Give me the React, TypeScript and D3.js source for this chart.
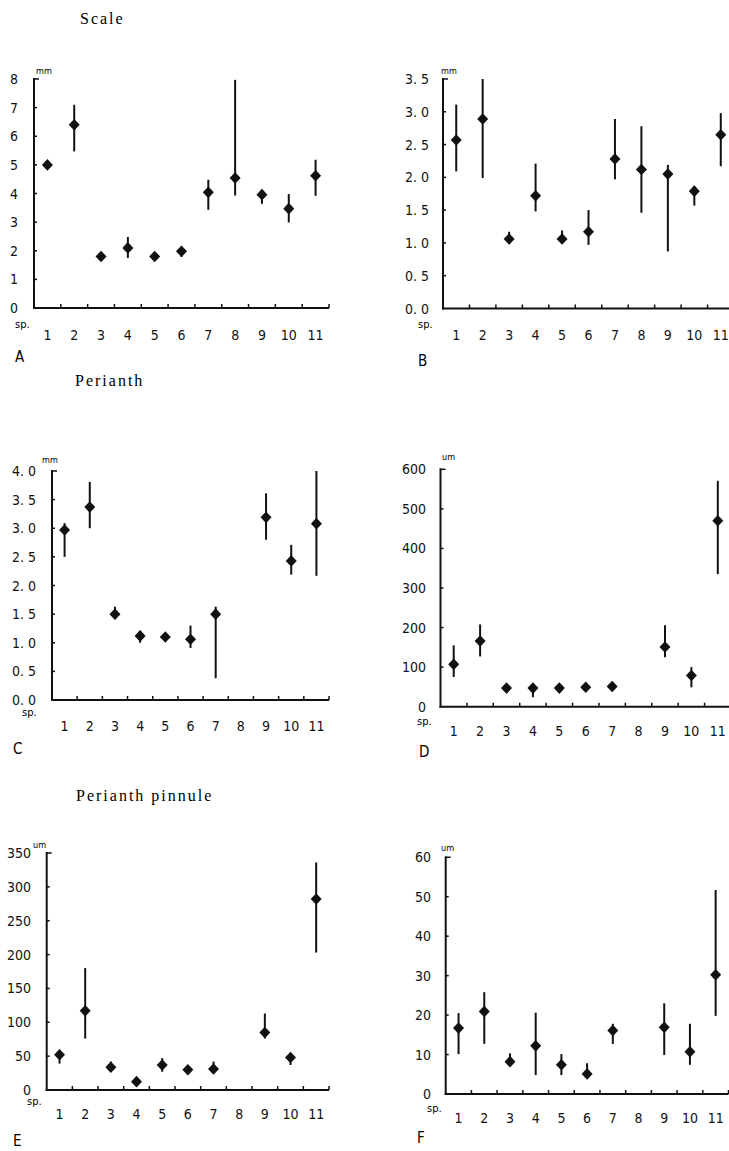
import React, { useEffect, useRef } from "react";
import * as d3 from "d3";

// species numbers on the x axis
const species = ["1", "2", "3", "4", "5", "6", "7", "8", "9", "10", "11"];

// A: scale length (mm)
const scaleLenMean = [5.0, 6.4, 1.8, 2.1, 1.8, 1.98, 4.04, 4.54, 3.96, 3.47, 4.62];
const scaleLenLow = [5.0, 5.47, 1.8, 1.75, 1.8, 1.78, 3.43, 3.93, 3.64, 2.99, 3.92];
const scaleLenHigh = [5.0, 7.1, 1.8, 2.48, 1.8, 2.15, 4.48, 7.97, 4.13, 3.98, 5.18];

// B: scale width (mm)
const scaleWidMean = [2.57, 2.89, 1.06, 1.72, 1.06, 1.17, 2.28, 2.12, 2.05, 1.79, 2.65];
const scaleWidLow = [2.09, 1.99, 0.99, 1.48, 0.99, 0.97, 1.97, 1.46, 0.87, 1.57, 2.17];
const scaleWidHigh = [3.11, 3.5, 1.17, 2.21, 1.19, 1.5, 2.89, 2.78, 2.19, 1.86, 2.98];

// C: perianth length (mm)
const perLenMean = [2.97, 3.37, 1.5, 1.12, 1.1, 1.06, 1.5, null, 3.19, 2.43, 3.08];
const perLenLow = [2.5, 3.0, 1.5, 1.0, 1.1, 0.91, 0.38, null, 2.8, 2.19, 2.17];
const perLenHigh = [3.09, 3.81, 1.63, 1.2, 1.1, 1.3, 1.63, null, 3.61, 2.71, 4.0];

// D: perianth (um)
const perWidMean = [107, 166, 47, 47, 47, 49, 51, null, 151, 79, 470];
const perWidLow = [75, 127, 47, 24, 47, 49, 51, null, 125, 49, 335];
const perWidHigh = [155, 208, 47, 55, 47, 49, 51, null, 206, 100, 571];

// E: perianth pinnule (um)
const pinLenMean = [52, 117, 33.5, 12.3, 37, 30, 31, null, 85, 48, 282];
const pinLenLow = [39, 76, 30, 7, 27, 30, 25, null, 76, 37, 203];
const pinLenHigh = [57, 180, 42, 17, 47, 30, 42, null, 113, 54, 336];

// F: perianth pinnule (um)
const pinWidMean = [16.7, 20.9, 8.2, 12.2, 7.4, 5.1, 16.1, null, 16.9, 10.7, 30.2];
const pinWidLow = [10.1, 12.7, 7.5, 4.8, 4.8, 4.0, 12.7, null, 9.9, 7.4, 19.8];
const pinWidHigh = [20.5, 25.8, 10.3, 20.6, 10.1, 7.8, 17.8, null, 23.0, 17.8, 51.7];

// y tick values and their printed labels
const ticksA = [0, 1, 2, 3, 4, 5, 6, 7, 8];
const labelsA = ["0", "1", "2", "3", "4", "5", "6", "7", "8"];
const ticksB = [0, 0.5, 1, 1.5, 2, 2.5, 3, 3.5];
const labelsB = ["0. 0", "0. 5", "1. 0", "1. 5", "2. 0", "2. 5", "3. 0", "3. 5"];
const ticksC = [0, 0.5, 1, 1.5, 2, 2.5, 3, 3.5, 4];
const labelsC = ["0. 0", "0. 5", "1. 0", "1. 5", "2. 0", "2. 5", "3. 0", "3. 5", "4. 0"];
const ticksD = [0, 100, 200, 300, 400, 500, 600];
const labelsD = ["0", "100", "200", "300", "400", "500", "600"];
const ticksE = [0, 50, 100, 150, 200, 250, 300, 350];
const labelsE = ["0", "50", "100", "150", "200", "250", "300", "350"];
const ticksF = [0, 10, 20, 30, 40, 50, 60];
const labelsF = ["0", "10", "20", "30", "40", "50", "60"];

const titles = [
  { text: "Scale", x: 80, y: 24 },
  { text: "Perianth", x: 75, y: 386 },
  { text: "Perianth pinnule", x: 76, y: 801 },
];

const panels = [
  { letter: "A", unit: "mm", mean: scaleLenMean, low: scaleLenLow, high: scaleLenHigh, ticks: ticksA, labels: labelsA,
    x0: 34, x1: 329, yTop: 79, yBot: 308, labelX: 18, unitX: 36, unitY: 74, spY: 328, numY: 340, letterY: 362, spX: 15, letterX: 15 },
  { letter: "B", unit: "mm", mean: scaleWidMean, low: scaleWidLow, high: scaleWidHigh, ticks: ticksB, labels: labelsB,
    x0: 443, x1: 734, yTop: 79, yBot: 308.5, labelX: 429, unitX: 441, unitY: 74, spY: 328, numY: 340, letterY: 366, spX: 418, letterX: 418 },
  { letter: "C", unit: "mm", mean: perLenMean, low: perLenLow, high: perLenHigh, ticks: ticksC, labels: labelsC,
    x0: 52, x1: 329, yTop: 471, yBot: 700, labelX: 36, unitX: 42, unitY: 463, spY: 716, numY: 731, letterY: 754, spX: 22, letterX: 13 },
  { letter: "D", unit: "um", mean: perWidMean, low: perWidLow, high: perWidHigh, ticks: ticksD, labels: labelsD,
    x0: 440.5, x1: 731, yTop: 469.3, yBot: 706.7, labelX: 426, unitX: 442, unitY: 460, spY: 725, numY: 736, letterY: 757, spX: 417, letterX: 419 },
  { letter: "E", unit: "um", mean: pinLenMean, low: pinLenLow, high: pinLenHigh, ticks: ticksE, labels: labelsE,
    x0: 46.7, x1: 329, yTop: 853, yBot: 1090, labelX: 31, unitX: 33, unitY: 848, spY: 1105, numY: 1119, letterY: 1146, spX: 27, letterX: 13 },
  { letter: "F", unit: "um", mean: pinWidMean, low: pinWidLow, high: pinWidHigh, ticks: ticksF, labels: labelsF,
    x0: 445.7, x1: 728.5, yTop: 857.3, yBot: 1094, labelX: 431, unitX: 441, unitY: 851, spY: 1112, numY: 1123, letterY: 1143, spX: 427, letterX: 417 },
];

const numFont = "'Liberation Sans Narrow', 'DejaVu Sans Condensed', 'Liberation Sans', sans-serif";
const titleFont = "'Liberation Serif', 'DejaVu Serif', serif";

export default function App() {
  const ref = useRef<SVGSVGElement>(null);

  useEffect(() => {
    const svg = d3.select(ref.current);
    svg.selectAll("*").remove();

    svg.selectAll("text.title")
      .data(titles)
      .enter()
      .append("text")
      .attr("class", "title")
      .attr("x", d => d.x)
      .attr("y", d => d.y)
      .attr("font-family", titleFont)
      .attr("font-size", 16)
      .attr("letter-spacing", 2)
      .text(d => d.text);

    panels.forEach(p => {
      const g = svg.append("g");
      const x = d3.scaleBand().domain(species).range([p.x0, p.x1]);
      const yMax = p.ticks[p.ticks.length - 1];
      const y = d3.scaleLinear().domain([0, yMax]).range([p.yBot, p.yTop]);

      // y axis line + inward ticks
      g.append("line")
        .attr("x1", p.x0).attr("x2", p.x0)
        .attr("y1", y(yMax) - 1).attr("y2", p.yBot + 1)
        .attr("stroke", "#111").attr("stroke-width", 2);
      g.selectAll("line.ytick")
        .data(p.ticks.slice(1))
        .enter()
        .append("line")
        .attr("x1", p.x0).attr("x2", (d, i) => p.x0 + (i === p.ticks.length - 2 ? 5 : 3))
        .attr("y1", d => y(d)).attr("y2", d => y(d))
        .attr("stroke", "#111").attr("stroke-width", 1.5);
      g.selectAll("text.ylab")
        .data(p.ticks)
        .enter()
        .append("text")
        .attr("x", p.labelX)
        .attr("y", d => y(d) + 5)
        .attr("text-anchor", "end")
        .attr("font-family", numFont)
        .attr("font-size", 14)
        .attr("fill", "#111")
        .text((d, i) => p.labels[i]);
      g.append("text")
        .attr("x", p.unitX).attr("y", p.unitY)
        .attr("font-family", numFont)
        .attr("font-size", 9)
        .text(p.unit);

      // x axis line + upward ticks at band boundaries
      g.append("line")
        .attr("x1", p.x0 - 1).attr("x2", p.x1)
        .attr("y1", p.yBot).attr("y2", p.yBot)
        .attr("stroke", "#111").attr("stroke-width", 2);
      g.selectAll("line.xtick")
        .data(species)
        .enter()
        .append("line")
        .attr("x1", d => (x(d) as number) + x.bandwidth())
        .attr("x2", d => (x(d) as number) + x.bandwidth())
        .attr("y1", p.yBot).attr("y2", p.yBot - 4)
        .attr("stroke", "#111").attr("stroke-width", 1.5);
      g.selectAll("text.xlab")
        .data(species)
        .enter()
        .append("text")
        .attr("x", d => (x(d) as number) + x.bandwidth() / 2)
        .attr("y", p.numY)
        .attr("text-anchor", "middle")
        .attr("font-family", numFont)
        .attr("font-size", 14)
        .attr("fill", "#111")
        .text(d => d);
      g.append("text")
        .attr("x", p.spX).attr("y", p.spY)
        .attr("font-family", numFont)
        .attr("font-size", 11)
        .text("sp.");
      g.append("text")
        .attr("x", p.letterX).attr("y", p.letterY)
        .attr("font-family", numFont)
        .attr("font-size", 15)
        .text(p.letter);

      const pts = species
        .map((s, i) => ({ s, m: p.mean[i], lo: p.low[i], hi: p.high[i] }))
        .filter(d => d.m !== null);
      const cx = (s: string) => (x(s) as number) + x.bandwidth() / 2;

      g.selectAll("line.err")
        .data(pts)
        .enter()
        .append("line")
        .attr("x1", d => cx(d.s)).attr("x2", d => cx(d.s))
        .attr("y1", d => y(d.hi as number)).attr("y2", d => y(d.lo as number))
        .attr("stroke", "#111").attr("stroke-width", 2);
      g.selectAll("path.pt")
        .data(pts)
        .enter()
        .append("path")
        .attr("d", d => {
          const px = cx(d.s), py = y(d.m as number);
          return `M${px},${py - 5.8}L${px + 5.5},${py}L${px},${py + 5.8}L${px - 5.5},${py}Z`;
        })
        .attr("fill", "#111");
    });
  }, []);

  return (
    <div style={{ position: "absolute", left: 0, top: 0 }}>
      <svg ref={ref} width={729} height={1151} style={{ display: "block", background: "#fff" }}></svg>
    </div>
  );
}
